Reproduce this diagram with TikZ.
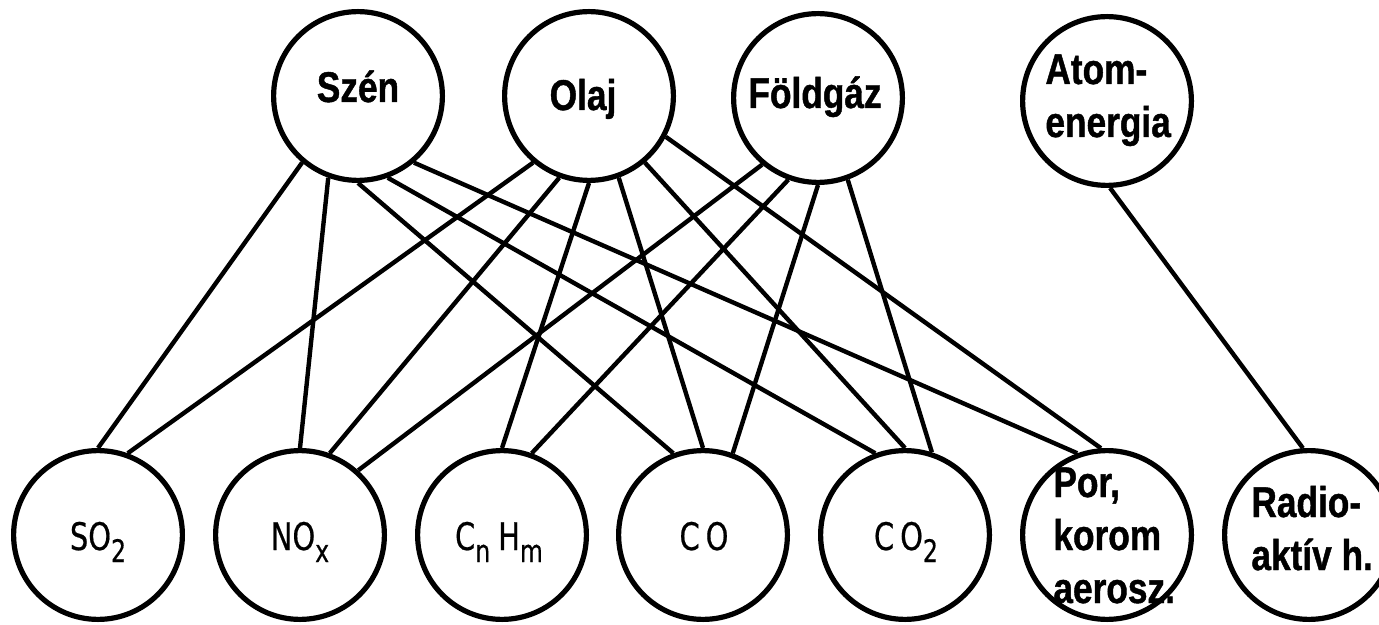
\documentclass[tikz,border=0pt]{standalone}
\usepackage{fontspec}
\newfontfamily\labfont{Liberation Sans}[FakeStretch=0.82, FakeBold=1]
\newfontfamily\formfont{DejaVu Sans}[FakeStretch=0.76, FakeBold=0.5]
% lowered, slightly smaller index for the chemical formulas
\newcommand\chemsub[1]{\raisebox{-6pt}{\fontsize{15.5}{15.5}\selectfont #1}}

\tikzset{
  src/.style={circle, draw, line width=2.6pt, minimum size=84.4pt, inner sep=0pt},
  lab/.style={font={\labfont\bfseries\fontsize{21.5}{26.5}\selectfont}, inner sep=0pt},
  form/.style={font={\formfont\fontsize{19}{22}\selectfont}, inner sep=0pt, anchor=base},
  link/.style={line width=2.2pt},
}

\begin{document}
\begin{tikzpicture}[x=0.5pt, y=-0.5pt]
\useasboundingbox (0,0) rectangle (1379,625);

% energy sources
\node[src] (szen) at (358,96)  {};
\node[src] (olaj) at (589,96)  {};
\node[src] (fold) at (818,98)  {};
\node[src] (atom) at (1107,101) {};

% pollutants
\node[src] (so2)   at (98,535)   {};
\node[src] (nox)   at (300,535)  {};
\node[src] (cnhm)  at (502,535)  {};
\node[src] (co)    at (703,535)  {};
\node[src] (co2)   at (905,535)  {};
\node[src] (por)   at (1107,535) {};
\node[src] (radio) at (1309,535) {};

% links
\draw[link] (szen.230) -- (so2.90);
\draw[link] (szen.250) -- (nox.90);
\draw[link] (szen.270) -- (co.110);
\draw[link] (szen.290) -- (co2.110);
\draw[link] (szen.310) -- (por.110);

\draw[link] (olaj.230) -- (so2.70);
\draw[link] (olaj.250) -- (nox.70);
\draw[link] (olaj.270) -- (cnhm.90);
\draw[link] (olaj.290) -- (co.90);
\draw[link] (olaj.310) -- (co2.90);
\draw[link] (olaj.332) -- (por.94);

\draw[link] (fold.230) -- (nox.48);
\draw[link] (fold.250) -- (cnhm.70);
\draw[link] (fold.270) -- (co.70);
\draw[link] (fold.290) -- (co2.72);

\draw[link] (atom.272) -- (radio.94);

% labels (multi-line labels are placed by the baseline of their last line)
\node[lab, anchor=base] (szent) at (358,102) {Szén};
\node[lab, anchor=base] (olajt) at (583,110) {Olaj};
\node[lab, anchor=base] (foldt) at (815,108) {Földgáz};
\node[lab, align=left, anchor=base west] (atomt) at (1045,137) {Atom-\\energia};

\node[form] (so2t)  at (98,550)  {SO\chemsub{2}};
\node[form] (noxt)  at (300,550) {NO\chemsub{x}};
\node[form] (cnhmt) at (499,550) {C\chemsub{n}\hspace{4pt}H\chemsub{m}};
\node[form] (cot)   at (704,550) {C\hspace{3pt}O};
\node[form] (co2t)  at (906,550) {C\hspace{3pt}O\chemsub{2}};
\node[lab, align=left, anchor=base west] (port)   at (1053,603) {Por,\\korom\\aerosz.};
\node[lab, align=left, anchor=base west] (radiot) at (1251,570) {Radio-\\aktív h.};
\end{tikzpicture}
\end{document}
